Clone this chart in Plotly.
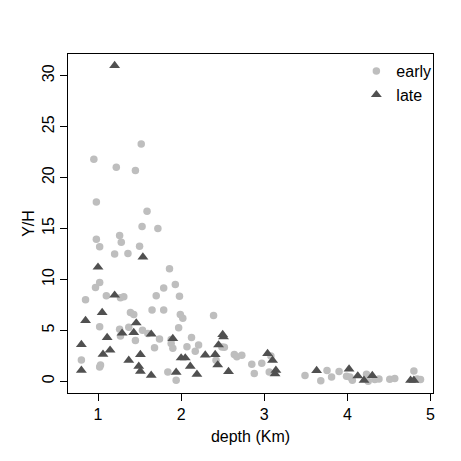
import plotly.graph_objects as go

# early group (grey circles)
early_depth = [0.95, 1.52, 1.22, 1.45, 0.98, 1.59, 1.53, 1.72, 0.98, 1.26,
               1.02, 1.28, 1.50, 1.20, 1.36, 1.86, 1.02, 0.97, 1.93, 1.79,
               1.10, 1.27, 1.31, 0.85, 1.70, 1.98, 1.39, 1.43, 1.65, 1.79,
               1.99, 2.02, 2.39, 1.02, 1.26, 1.37, 1.535, 1.97, 1.27, 1.60,
               1.45, 1.74, 1.88, 1.88, 1.90, 1.68, 2.125, 2.21, 2.07, 2.17,
               2.49, 2.52, 2.42, 0.80, 1.03, 1.02, 1.84, 1.94, 2.64, 2.67,
               2.73, 2.85, 2.88, 2.97, 3.08, 3.06, 3.49, 3.68, 3.755, 3.81,
               3.90, 3.99, 4.03, 4.06, 4.23, 4.25, 4.33, 4.38, 4.51, 4.57,
               4.80, 4.84, 4.88]
early_yh = [21.8, 23.3, 21.0, 20.7, 17.6, 16.7, 15.2, 15.0, 13.95, 14.3,
            13.2, 13.65, 13.25, 12.5, 12.55, 11.05, 9.7, 9.2, 9.5, 9.15,
            8.4, 8.2, 8.3, 8.0, 8.4, 8.35, 6.75, 6.55, 7.0, 7.0,
            6.55, 6.2, 6.45, 5.35, 5.1, 5.3, 5.0, 5.25, 4.45, 4.7,
            4.0, 4.15, 4.1, 3.7, 3.25, 3.3, 4.3, 3.55, 3.4, 2.95,
            3.37, 3.34, 2.06, 2.1, 1.6, 1.4, 0.9, 0.1, 2.62, 2.4,
            2.55, 1.67, 0.76, 1.77, 2.49, 0.9, 0.58, 0.05, 1.05, 0.42,
            0.95, 0.49, 0.42, 0.1, 0.69, 0.0, 0.17, 0.23, 0.2, 0.27,
            1.0, 0.23, 0.17]

# late group (dark triangles)
late_depth = [1.20, 1.54, 1.00, 1.20, 1.05, 0.85, 1.46, 1.43, 1.29, 1.64,
              1.11, 1.90, 2.50, 2.51, 2.45, 0.80, 1.145, 1.06, 1.37, 1.51,
              2.00, 2.05, 2.29, 2.41, 2.44, 2.11, 2.57, 1.49, 1.51, 1.64,
              0.80, 1.94, 2.19, 3.04, 3.10, 3.14, 3.13, 3.63, 4.02, 4.125,
              4.30, 4.20, 4.76, 4.80]
late_yh = [31.0, 12.2, 11.2, 8.45, 6.75, 5.96, 5.73, 4.78, 4.72, 4.62,
           4.29, 4.19, 4.59, 4.35, 3.57, 3.6, 3.05, 2.65, 2.06, 2.62,
           2.29, 2.29, 2.58, 2.62, 1.6, 1.47, 0.95, 1.47, 0.98, 0.59,
           1.08, 0.88, 0.69, 2.72, 2.06, 1.08, 0.72, 1.05, 1.2, 0.52,
           0.56, 0.1, 0.1, 0.1]

fnt = dict(family="Liberation Sans, Arial, sans-serif", size=16, color="black")

fig = go.Figure()
fig.add_trace(go.Scatter(x=early_depth, y=early_yh, mode="markers", name="early",
                         marker=dict(symbol="circle", size=7.5, color="#bebebe")))
fig.add_trace(go.Scatter(x=late_depth, y=late_yh, mode="markers", name="late",
                         marker=dict(symbol="triangle-up", size=9.5, color="#505050")))

axis_style = dict(showgrid=False, zeroline=False, showline=True, linecolor="black",
                  linewidth=1, mirror=True, ticks="outside", ticklen=7,
                  tickcolor="black", tickfont=fnt)

# page body adds 8px offset, so margins are shifted to compensate
fig.update_layout(
    width=461, height=461,
    margin=dict(l=60, r=36, t=46, b=76),
    paper_bgcolor="white", plot_bgcolor="white",
    font=fnt,
    xaxis=dict(range=[0.639, 5.03], tickvals=[1, 2, 3, 4, 5],
               title=dict(text="depth (Km)", font=fnt, standoff=8), **axis_style),
    yaxis=dict(range=[-1.15, 32.13], tickvals=[0, 5, 10, 15, 20, 25, 30], tickangle=-90,
               title=dict(text="Y/H", font=fnt, standoff=0), **axis_style),
    legend=dict(x=0.79, y=1.0, xanchor="left", yanchor="top", bgcolor="rgba(0,0,0,0)",
                font=fnt, itemwidth=30, tracegroupgap=0),
    showlegend=True,
)

fig.write_html("out.html")
